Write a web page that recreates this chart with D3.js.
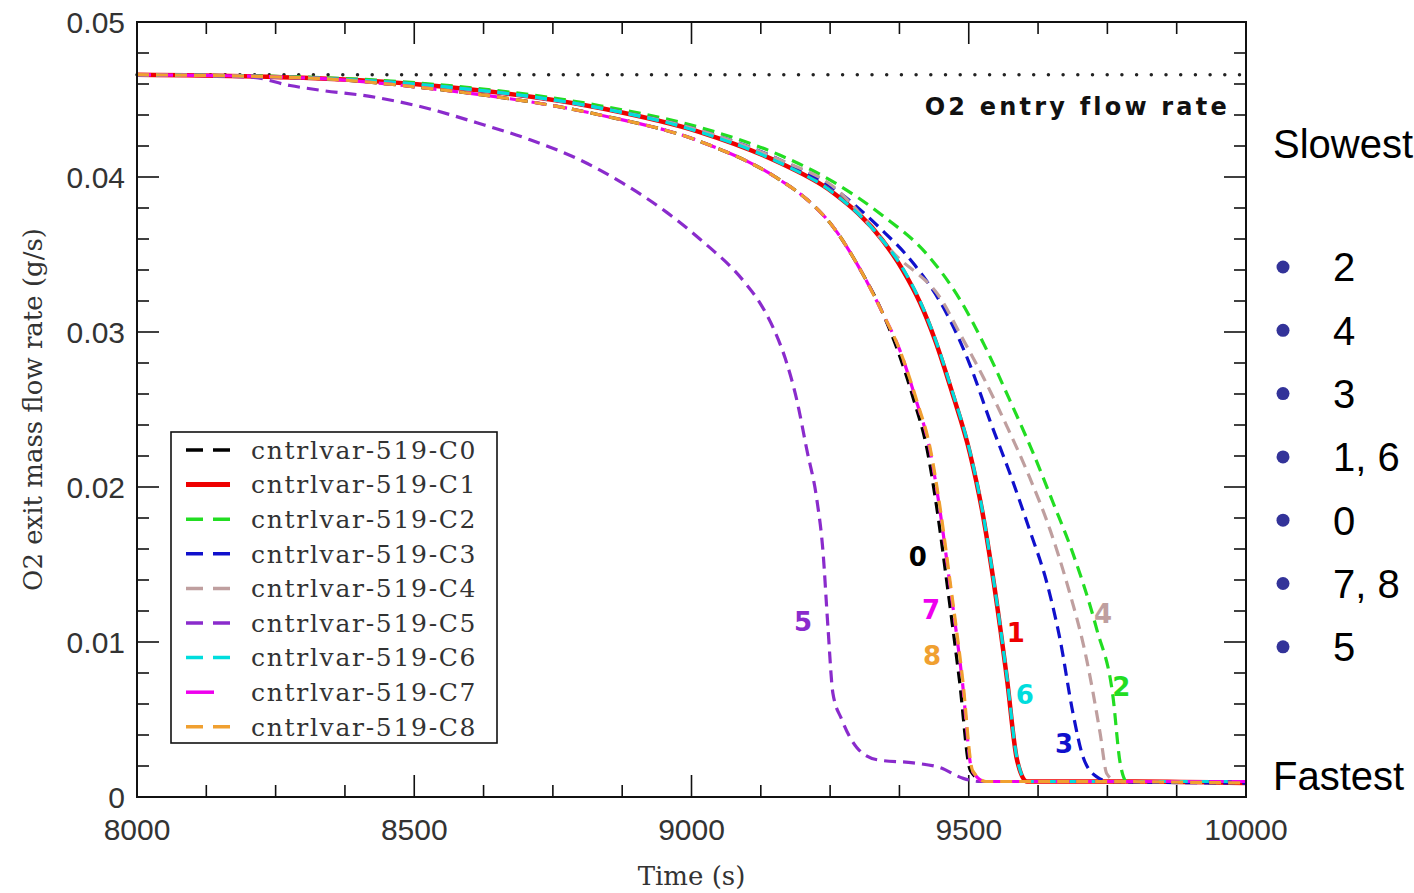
<!DOCTYPE html>
<meta charset="utf-8">
<style>
body { margin: 0; background: #fff; }
.tick-label { font-family: "Liberation Sans", sans-serif; font-size: 30px; fill: #333; }
.axis-title { font-family: "DejaVu Serif", serif; font-size: 26px; fill: #333; }
.legend-text { font-family: "DejaVu Serif", serif; font-size: 25px; fill: #333; letter-spacing: 1.7px; }
.curve-label { font-family: "DejaVu Sans", sans-serif; font-size: 26px; font-weight: bold; }
.side { font-family: "Liberation Sans", Arial, sans-serif; font-size: 40px; fill: #000; }
</style>
<svg width="1414" height="893"></svg>
<script src="https://cdn.jsdelivr.net/npm/d3@7/dist/d3.min.js"></script>
<script>

// series values: [time (s), O2 exit mass flow rate (g/s)]
var c0 = [[8000,0.0466],[8300,0.0464],[8530,0.0457],[8835,0.0440],[9015,0.0423],[9160,0.0398],[9210,0.0385],
          [9255,0.0368],[9300,0.0343],[9345,0.0312],[9372,0.0288],[9401,0.0256],[9425,0.0224],[9443,0.0185],
          [9460,0.0140],[9483,0.0076],[9503,0.0017],[9528,0.0010],[9700,0.0010],[10000,0.0009]];
var c1 = [[8000,0.0466],[8300,0.0464],[8530,0.0459],[8835,0.04445],[9015,0.0429],[9160,0.0409],[9255,0.0390],
          [9345,0.0359],[9381,0.0340],[9412,0.0319],[9439,0.0295],[9470,0.0261],[9502,0.0222],[9524,0.0185],
          [9544,0.0141],[9569,0.0076],[9587,0.0024],[9605,0.0010],[9800,0.0010],[10000,0.0009]];
var c2 = [[8000,0.0466],[8300,0.04645],[8530,0.0460],[8835,0.0446],[9015,0.0432],[9160,0.0414],[9255,0.0397],
          [9345,0.0375],[9425,0.0350],[9484,0.0321],[9533,0.0288],[9574,0.0256],[9616,0.0222],[9652,0.0190],
          [9688,0.0157],[9731,0.0108],[9760,0.0065],[9773,0.0022],[9785,0.0010],[10000,0.0010]];
var c3 = [[8000,0.0466],[8300,0.0464],[8530,0.0459],[8835,0.04445],[9015,0.0430],[9160,0.0411],[9255,0.0393],
          [9340,0.0367],[9403,0.0343],[9457,0.0314],[9502,0.0279],[9538,0.0243],[9574,0.0209],[9610,0.0172],
          [9641,0.0138],[9665,0.0101],[9688,0.0054],[9706,0.0026],[9731,0.0013],[9755,0.0010],[10000,0.0009]];
var c4 = [[8000,0.0466],[8300,0.0464],[8530,0.0459],[8835,0.04445],[9015,0.0430],[9160,0.0411],[9255,0.0394],
          [9367,0.0350],[9454,0.0319],[9484,0.0299],[9526,0.0271],[9569,0.0239],[9610,0.0206],[9647,0.0172],
          [9677,0.0138],[9713,0.0088],[9737,0.0041],[9749,0.0015],[9767,0.0010],[10000,0.0010]];
var c5 = [[8000,0.0466],[8204,0.04645],[8276,0.0459],[8330,0.0456],[8420,0.0452],[8516,0.0445],[8613,0.0435],
          [8709,0.0424],[8799,0.0411],[8876,0.0396],[8956,0.0377],[9015,0.0360],[9096,0.0332],[9123,0.0319],
          [9147,0.0303],[9169,0.0283],[9190,0.0256],[9208,0.0224],[9226,0.0192],[9237,0.0159],[9246,0.0110],
          [9255,0.0067],[9271,0.0050],[9298,0.0032],[9335,0.0024],[9400,0.0022],[9448,0.0019],[9490,0.0012],
          [9520,0.0010],[10000,0.0010]];
var c6 = [[8000,0.0466],[8300,0.0464],[8530,0.0459],[8835,0.04445],[9015,0.0429],[9160,0.0409],[9255,0.0390],
          [9345,0.0359],[9381,0.0341],[9412,0.0320],[9439,0.0296],[9470,0.0262],[9502,0.0223],[9524,0.0186],
          [9544,0.0142],[9569,0.0077],[9587,0.0025],[9605,0.0010],[9800,0.0010],[10000,0.0010]];
var c7 = [[8000,0.0466],[8300,0.0464],[8530,0.0457],[8835,0.0440],[9015,0.0423],[9160,0.0398],[9210,0.0385],
          [9255,0.0368],[9300,0.0343],[9345,0.0312],[9376,0.0288],[9405,0.0256],[9430,0.0224],[9448,0.0185],
          [9465,0.0140],[9488,0.0076],[9506,0.0017],[9530,0.0010],[9700,0.0010],[10000,0.0010]];
var c8 = [[8000,0.0466],[8300,0.0464],[8530,0.0457],[8835,0.0440],[9015,0.0423],[9160,0.0398],[9210,0.0385],
          [9255,0.0368],[9300,0.0343],[9345,0.0312],[9376,0.0288],[9406,0.0256],[9431,0.0224],[9449,0.0185],
          [9466,0.0140],[9489,0.0076],[9507,0.0017],[9531,0.0010],[9700,0.0010],[10000,0.0009]];

var seriesNames = ["cntrlvar-519-C0","cntrlvar-519-C1","cntrlvar-519-C2","cntrlvar-519-C3","cntrlvar-519-C4",
                   "cntrlvar-519-C5","cntrlvar-519-C6","cntrlvar-519-C7","cntrlvar-519-C8"];
var seriesData = [c0, c1, c2, c3, c4, c5, c6, c7, c8];
var colors = ["#000000","#ee0000","#22dd22","#1010cc","#bf9f9f","#8a2bcc","#00dddd","#ee00ee","#f0a030"];
var dashes = ["12,7","none","12,7","12,7","12,7","12,7","12,7","14,8","12,7"];

var entryRate = 0.0466;
var xTicks = [8000, 8500, 9000, 9500, 10000];
var yTicks = [0, 0.01, 0.02, 0.03, 0.04, 0.05];
var yTickLabels = ["0", "0.01", "0.02", "0.03", "0.04", "0.05"];

// curve number labels: [text, time, value]
var curveLabels = [["0",9408,0.0155],["7",9432,0.0121],["8",9434,0.0091],["5",9201,0.0113],["1",9585,0.0106],
                   ["6",9601,0.0066],["3",9672,0.0034],["4",9742,0.0118],["2",9775,0.0071]];

var ranking = ["2", "4", "3", "1, 6", "0", "7, 8", "5"];

var svg = d3.select("svg"),
    margin = {top: 22, right: 168, bottom: 96, left: 137},
    width = svg.attr("width") - margin.left - margin.right,
    height = svg.attr("height") - margin.top - margin.bottom,
    g = svg.append("g").attr("transform", "translate(" + margin.left + "," + margin.top + ")");

var x = d3.scaleLinear().domain([8000, 10000]).range([0, width]),
    y = d3.scaleLinear().domain([0, 0.05]).range([height, 0]);

var line = d3.line()
    .curve(d3.curveMonotoneX)
    .x(function(d) { return x(d[0]); })
    .y(function(d) { return y(d[1]); });

// ticks on all four sides, pointing inward
var xMinor = d3.range(8000, 10001, 125),
    yMinor = d3.range(0, 0.0501, 0.002);

function tickLen(isMajor) { return isMajor ? 22 : 12; }

var ticks = g.append("g").attr("stroke", "#111").attr("stroke-width", 1.6);
xMinor.forEach(function(t) {
  var L = tickLen(t % 500 === 0);
  ticks.append("line").attr("x1", x(t)).attr("x2", x(t)).attr("y1", height).attr("y2", height - L);
  ticks.append("line").attr("x1", x(t)).attr("x2", x(t)).attr("y1", 0).attr("y2", L);
});
yMinor.forEach(function(v, i) {
  var L = tickLen(i % 5 === 0);
  ticks.append("line").attr("y1", y(v)).attr("y2", y(v)).attr("x1", 0).attr("x2", L);
  ticks.append("line").attr("y1", y(v)).attr("y2", y(v)).attr("x1", width).attr("x2", width - L);
});

// entry flow rate reference
g.append("line")
    .attr("x1", 0).attr("x2", width)
    .attr("y1", y(entryRate)).attr("y2", y(entryRate))
    .attr("stroke", "#222").attr("stroke-width", 3.5)
    .attr("stroke-linecap", "round")
    .attr("stroke-dasharray", "0,14.7");

g.append("text")
    .attr("class", "curve-label")
    .attr("x", x(9971)).attr("y", y(0.0440))
    .attr("text-anchor", "end")
    .style("font-size", "24px")
    .style("letter-spacing", "3.2px")
    .attr("fill", "#111")
    .text("O2 entry flow rate");

// curves
g.selectAll(".series")
  .data(seriesData)
  .enter().append("path")
    .attr("class", "series")
    .attr("fill", "none")
    .attr("stroke", function(d, i) { return colors[i]; })
    .attr("stroke-width", function(d, i) { return i === 1 ? 4.5 : 3.2; })
    .attr("stroke-dasharray", function(d, i) { return dashes[i]; })
    .attr("d", line);

g.selectAll(".num")
  .data(curveLabels)
  .enter().append("text")
    .attr("class", "curve-label")
    .attr("x", function(d) { return x(d[1]); })
    .attr("y", function(d) { return y(d[2]); })
    .attr("text-anchor", "middle")
    .attr("dy", "0.35em")
    .attr("fill", function(d) { return colors[+d[0]]; })
    .text(function(d) { return d[0]; });

// frame
g.append("rect")
    .attr("width", width).attr("height", height)
    .attr("fill", "none").attr("stroke", "#111").attr("stroke-width", 2);

// tick labels
g.selectAll(".xl")
  .data(xTicks)
  .enter().append("text")
    .attr("class", "tick-label")
    .attr("x", function(d) { return x(d); })
    .attr("y", height + 43)
    .attr("text-anchor", "middle")
    .text(function(d) { return d; });

g.selectAll(".yl")
  .data(yTicks)
  .enter().append("text")
    .attr("class", "tick-label")
    .attr("x", -12)
    .attr("y", function(d) { return y(d); })
    .attr("dy", "0.36em")
    .attr("text-anchor", "end")
    .text(function(d, i) { return yTickLabels[i]; });

svg.append("text")
    .attr("class", "axis-title")
    .attr("x", margin.left + width / 2)
    .attr("y", 885)
    .attr("text-anchor", "middle")
    .text("Time (s)");

svg.append("text")
    .attr("class", "axis-title")
    .attr("transform", "translate(42," + (margin.top + height / 2) + ") rotate(-90)")
    .attr("text-anchor", "middle")
    .text("O2 exit mass flow rate (g/s)");

// legend
var legend = g.append("g").attr("transform", "translate(" + (171 - margin.left) + "," + (432 - margin.top) + ")");
legend.append("rect")
    .attr("width", 326).attr("height", 311)
    .attr("fill", "#fff").attr("stroke", "#111").attr("stroke-width", 1.6);

var item = legend.selectAll(".item")
  .data(seriesNames)
  .enter().append("g")
    .attr("transform", function(d, i) { return "translate(0," + (18 + i * 34.6) + ")"; });

item.append("line")
    .attr("x1", 15).attr("x2", 59)
    .attr("stroke", function(d, i) { return colors[i]; })
    .attr("stroke-width", function(d, i) { return i === 1 ? 5 : 3.5; })
    .attr("stroke-dasharray", function(d, i) { return i === 1 ? "none" : (i === 7 ? "28,20" : "17,10"); });

item.append("text")
    .attr("class", "legend-text")
    .attr("x", 80)
    .attr("dy", "0.35em")
    .text(function(d) { return d; });

// speed ranking on the right
var side = svg.append("g");
side.append("text").attr("class", "side").attr("x", 1273).attr("y", 158).text("Slowest");
side.append("text").attr("class", "side").attr("x", 1273).attr("y", 790).text("Fastest");

var rank = side.selectAll(".rank")
  .data(ranking)
  .enter().append("g")
    .attr("transform", function(d, i) { return "translate(0," + (267 + i * 63.3) + ")"; });

rank.append("circle").attr("cx", 1283).attr("r", 6.5).attr("fill", "#333399");
rank.append("text")
    .attr("class", "side")
    .attr("x", 1333)
    .attr("dy", "0.36em")
    .text(function(d) { return d; });

</script>
